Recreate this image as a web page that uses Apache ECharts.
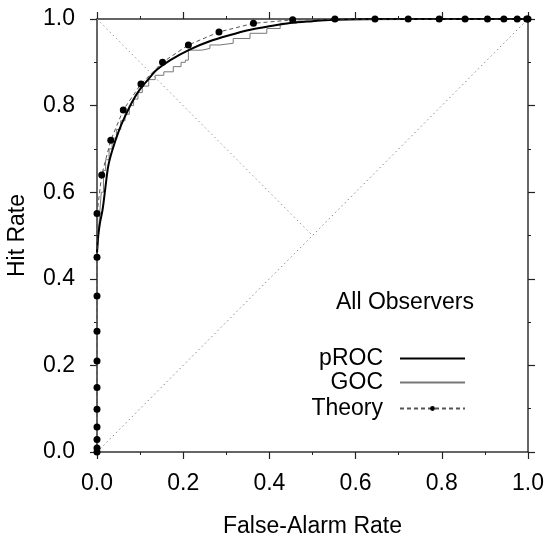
<!DOCTYPE html>
<html><head><meta charset="utf-8">
<script src="https://cdn.jsdelivr.net/npm/echarts@6/dist/echarts.min.js"></script>
<style>html,body{margin:0;padding:0;background:#fff}#c{width:549px;height:540px}</style>
</head><body><div id="c"></div>
<script>
// Theory points (false-alarm, hit)
const theoryFA  = [0,0,0,0,0,0,0,0,0,0,0,0.011,0.032,0.061,0.102,0.152,0.212,0.283,0.363,0.454,0.552,0.645,0.722,0.794,0.854,0.906,0.944,0.975,0.997,1.0];
const theoryHit = [0,0.009,0.029,0.058,0.099,0.149,0.21,0.279,0.36,0.45,0.551,0.64,0.72,0.79,0.85,0.90,0.94,0.97,0.99,0.998,1,1,1,1,1,1,1,1,1,1];
// pROC smooth curve
const procFA  = [0,0.003,0.007,0.013,0.02,0.026,0.035,0.05,0.065,0.084,0.1,0.12,0.138,0.17,0.216,0.26,0.309,0.35,0.394,0.448,0.5,0.55,0.6,0.7,1.0];
const procHit = [0.46,0.50,0.53,0.56,0.615,0.66,0.695,0.74,0.775,0.813,0.838,0.862,0.882,0.905,0.93,0.948,0.963,0.974,0.982,0.991,0.995,0.998,0.9995,1,1];
// GOC staircase corners
const gocFA  = [0,0.003,0.006,0.010,0.015,0.020,0.028,0.035,0.045,0.055,0.065,0.075,0.085,0.095,0.105,0.12,0.135,0.155,0.177,0.195,0.205,0.212,0.243,0.262,0.285,0.316,0.355,0.394,0.425,0.463,0.5,0.55,1.0];
const gocHit = [0.44,0.50,0.55,0.60,0.65,0.675,0.70,0.725,0.745,0.765,0.78,0.80,0.815,0.83,0.845,0.86,0.87,0.878,0.89,0.90,0.905,0.928,0.932,0.94,0.944,0.955,0.967,0.978,0.99,0.995,0.998,1.0,1.0];
// reference lines
const diagFA = [0,1], diagHit = [0,1];
const antiFA = [0,0.5], antiHit = [1,0.5];
const legendTitle = 'All Observers';

const zip = (a,b) => a.map((v,i)=>[v,b[i]]);
const FONT = 'Liberation Sans';
const FS = 23;
const axisCommon = {
  type:'value', min:0, max:1, interval:0.2,
  axisLine:{show:true, onZero:false, lineStyle:{color:'#333', width:1.5}},
  axisTick:{show:true, inside:false, length:7, lineStyle:{color:'#222', width:1.2}},
  minorTick:{show:true, splitNumber:2, length:3, lineStyle:{color:'#222', width:1}},
  splitLine:{show:false}
};
const legText = {fontFamily:FONT, fontSize:FS, color:'#000', padding:[0,12,0,0]};
const chart = echarts.init(document.getElementById('c'), null, {renderer:'canvas'});
chart.setOption({
  animation:false,
  backgroundColor:'#fff',
  grid:{left:97, right:21, top:19, bottom:88, containLabel:false, outerBoundsMode:'none'},
  xAxis:[
    Object.assign({}, axisCommon, {position:'bottom', name:'False-Alarm Rate', nameLocation:'middle', nameGap:63,
      nameTextStyle:{fontFamily:FONT, fontSize:FS, color:'#000'},
      axisLabel:{margin:20, fontFamily:FONT, fontSize:FS, color:'#000', formatter:v=>v.toFixed(1)}}),
    Object.assign({}, axisCommon, {position:'top', axisLabel:{show:false}})
  ],
  yAxis:[
    Object.assign({}, axisCommon, {position:'left', name:'Hit Rate', nameLocation:'middle', nameGap:68, nameRotate:90,
      nameTextStyle:{fontFamily:FONT, fontSize:FS, color:'#000'},
      axisLabel:{margin:22, fontFamily:FONT, fontSize:FS, color:'#000', formatter:v=>v.toFixed(1)}}),
    Object.assign({}, axisCommon, {position:'right', axisLabel:{show:false}})
  ],
  title:{text:legendTitle, left:400, top:286, textAlign:'center',
    textStyle:{fontFamily:FONT, fontSize:FS, fontWeight:'normal', color:'#000'}},
  legend:[
    {data:['pROC'], right:83, top:347, padding:0, align:'right', itemWidth:65, itemHeight:12,
     itemStyle:{opacity:0}, textStyle:legText},
    {data:['GOC'], right:83, top:371, padding:0, align:'right', itemWidth:65, itemHeight:12,
     itemStyle:{opacity:0}, textStyle:legText},
    {data:['Theory'], right:83, top:397, padding:0, align:'right', itemWidth:65, itemHeight:6,
     textStyle:legText}
  ],
  series:[
    {name:'diag', type:'line', data:zip(diagFA,diagHit), symbol:'none', silent:true,
     lineStyle:{color:'#888', width:1, type:[1.5,3]}, z:1},
    {name:'anti', type:'line', data:zip(antiFA,antiHit), symbol:'none', silent:true,
     lineStyle:{color:'#999', width:1, type:[1.5,3]}, z:1},
    {name:'GOC', type:'line', step:'end', data:zip(gocFA,gocHit), symbol:'none',
     itemStyle:{color:'#777'}, lineStyle:{color:'#777', width:1}, z:2},
    {name:'pROC', type:'line', smooth:0.3, data:zip(procFA,procHit), symbol:'none',
     itemStyle:{color:'#000'}, lineStyle:{color:'#000', width:2}, z:3},
    {name:'Theory', type:'line', data:zip(theoryFA,theoryHit), symbol:'circle', symbolSize:7,
     itemStyle:{color:'#000'}, lineStyle:{color:'#555', width:1, type:[4,3]}, z:4}
  ]
});
</script></body></html>
